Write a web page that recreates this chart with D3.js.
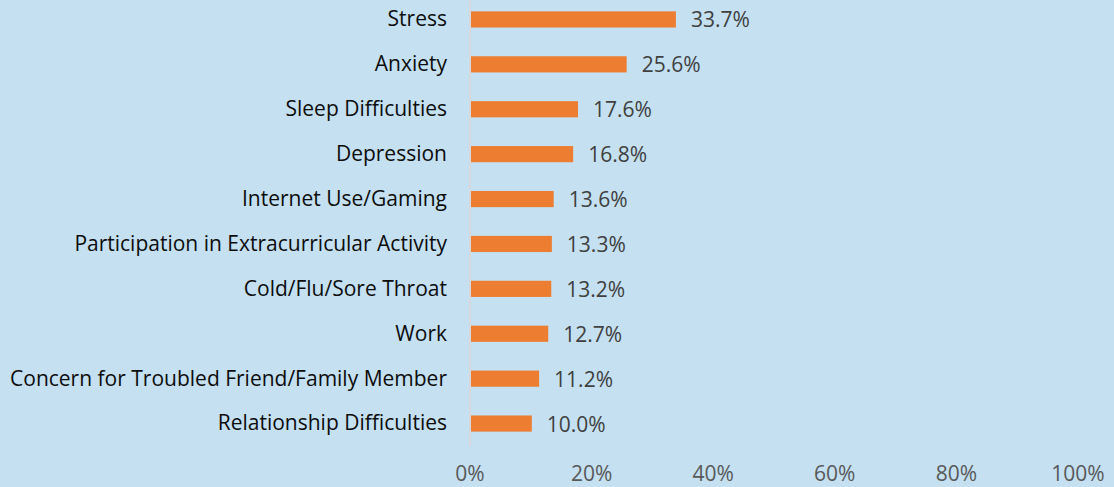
<!DOCTYPE html>
<html>
<head>
<meta charset="utf-8">
<script src="https://cdn.jsdelivr.net/npm/d3@7"></script>
<style>
  html, body { margin: 0; padding: 0; background: #c4e0f1; }
  svg { display: block; font-family: "Open Sans", sans-serif; }
</style>
</head>
<body>
<div id="chart"></div>
<script>
// data
const categories = [
    'Stress', 'Anxiety', 'Sleep Difficulties', 'Depression', 'Internet Use/Gaming',
    'Participation in Extracurricular Activity', 'Cold/Flu/Sore Throat', 'Work',
    'Concern for Troubled Friend/Family Member', 'Relationship Difficulties'
];
const values = [33.7, 25.6, 17.6, 16.8, 13.6, 13.3, 13.2, 12.7, 11.2, 10.0];
const tickValues = [0, 20, 40, 60, 80, 100];

const width = 1114, height = 487;
const fontSize = 21;

const svg = d3.select('#chart').append('svg')
    .attr('width', width)
    .attr('height', height);

svg.append('rect')
    .attr('width', width)
    .attr('height', height)
    .attr('fill', '#c4e0f1');

const x = d3.scaleLinear().domain([0, 100]).range([470, 1078]);
const y = d3.scaleBand().domain(categories).range([-3, 446]).paddingInner(0.64).paddingOuter(0.32);

// vertical axis line
svg.append('line')
    .attr('x1', x(0)).attr('x2', x(0))
    .attr('y1', 0).attr('y2', 446)
    .attr('stroke', '#dcd6d6')
    .attr('stroke-width', 1.5);

const rows = categories.map((c, i) => ({name: c, value: values[i]}));

svg.append('g')
    .selectAll('rect')
    .data(rows)
    .join('rect')
    .attr('x', x(0) + 1)
    .attr('y', d => y(d.name))
    .attr('width', d => x(d.value) - x(0))
    .attr('height', y.bandwidth())
    .attr('fill', '#ed7d31');

// category labels
svg.append('g')
    .selectAll('text')
    .data(rows)
    .join('text')
    .attr('x', 447)
    .attr('y', d => y(d.name) + y.bandwidth() / 2)
    .attr('dy', '0.33em')
    .attr('text-anchor', 'end')
    .attr('font-size', fontSize)
    .attr('fill', '#0d0d0d')
    .text(d => d.name);

// value labels
svg.append('g')
    .selectAll('text')
    .data(rows)
    .join('text')
    .attr('x', d => x(d.value) + 16)
    .attr('y', d => y(d.name) + y.bandwidth() / 2)
    .attr('dy', '0.38em')
    .attr('font-size', fontSize)
    .attr('fill', '#404040')
    .text(d => d.value.toFixed(1) + '%');

// x axis tick labels
svg.append('g')
    .selectAll('text')
    .data(tickValues)
    .join('text')
    .attr('x', d => x(d))
    .attr('y', 474)
    .attr('dy', '0.35em')
    .attr('text-anchor', 'middle')
    .attr('font-size', fontSize)
    .attr('fill', '#595959')
    .text(d => d + '%');
</script>
</body>
</html>
